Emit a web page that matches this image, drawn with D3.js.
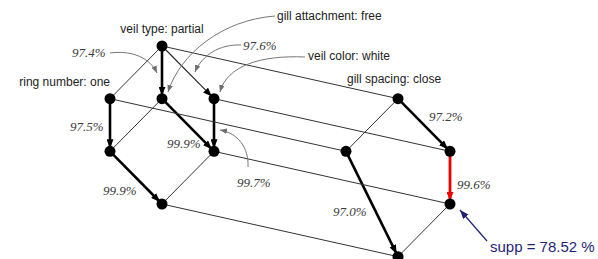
<!DOCTYPE html>
<html lang="en">
<head>
<meta charset="utf-8">
<title>Lattice of mushroom itemsets</title>
<script src="https://cdn.jsdelivr.net/npm/d3@7"></script>
<style>
  body { margin: 0; background: #fff; }
  .item { font-family: "Liberation Sans", Arial, sans-serif; font-size: 12px; fill: #222; }
  .conf { font-family: "Liberation Serif", "Times New Roman", serif; font-style: italic; font-size: 13px; fill: #3c3c3c; }
  .supp { font-family: "Liberation Sans", Arial, sans-serif; font-size: 15px; fill: #1f1f78; }
</style>
</head>
<body>
<script>
// lattice nodes: column (-1..1), level (0 = top), side (0 = left copy, 1 = shifted copy)
var nodeIds   = ["A", "B", "C", "D", "E", "F", "G", "A2", "B2", "D2", "F2", "G2"];
var nodeCol   = [0, -1, 0, 1, -1, 1, 0, 0, -1, 1, 1, 0];
var nodeLevel = [0, 1, 1, 1, 2, 2, 3, 0, 1, 1, 2, 3];
var nodeSide  = [0, 0, 0, 0, 0, 0, 0, 1, 1, 1, 1, 1];

// edges: source, target, kind
var edgeSrc  = ["A", "A", "A", "B", "C", "C", "D", "E", "F",
                "A2", "A2", "B2", "D2", "F2",
                "A", "B", "D", "F", "G"];
var edgeTgt  = ["B", "C", "D", "E", "E", "F", "F", "G", "G",
                "B2", "D2", "G2", "F2", "G2",
                "A2", "B2", "D2", "F2", "G2"];
var edgeKind = ["thin", "thick", "thinArrow", "thick", "thin", "thick", "thick", "thick", "thin",
                "thin", "thick", "thick", "red", "thin",
                "thin", "thin", "thin", "thin", "thin"];

// item labels and confidences
var itemLabels = ["veil type: partial", "gill attachment: free", "veil color: white",
                  "gill spacing: close", "ring number: one"];
var confLabels = ["97.4%", "97.6%", "97.5%", "99.9%", "99.9%", "99.7%", "97.0%", "97.2%", "99.6%"];
var suppLabel = "supp = 78.52 %";

// ---------- layout ----------
var W = 598, H = 259;
var sideDx = 236;
var r = 5.5;

var itemPos = [[162, 33, "middle"], [277, 20, "start"], [308, 60, "start"],
               [347, 83, "start"], [110, 86, "end"]];
var confPos = [[72, 57], [243, 50], [70, 131], [167, 148], [103, 195],
               [237, 187], [333, 216], [429, 121], [457, 189]];
var suppPos = [490, 252];

// grey annotation curves (text -> element)
var notes = [
  "M110,53 C132,50 150,58 157,73",
  "M275,16 C222,20 180,54 168,92",
  "M241,45 C220,44 202,55 195,72",
  "M305,57 C260,55 227,66 220,92",
  "M248,167 C249,148 238,133 220,130"
];

var x = d3.scaleLinear().domain([-1, 1]).range([110, 214]);
var y = d3.scaleLinear().domain([0, 3]).range([46, 204]);

var nodes = nodeIds.map(function(id, i) {
  return {
    id: id,
    x: x(nodeCol[i]) + nodeSide[i] * sideDx,
    y: y(nodeLevel[i] + nodeSide[i])
  };
});
var byId = {};
nodes.forEach(function(n) { byId[n.id] = n; });

var edges = edgeSrc.map(function(s, i) {
  return { s: byId[s], t: byId[edgeTgt[i]], kind: edgeKind[i] };
});

var svg = d3.select("body").append("svg")
  .attr("width", W)
  .attr("height", H);

var defs = svg.append("defs");
function marker(id, color, len, wid, back) {
  defs.append("marker")
    .attr("id", id)
    .attr("markerUnits", "userSpaceOnUse")
    .attr("viewBox", "0 " + (-wid) + " " + len + " " + (2 * wid))
    .attr("refX", len + back)
    .attr("refY", 0)
    .attr("markerWidth", len)
    .attr("markerHeight", 2 * wid)
    .attr("orient", "auto")
    .append("path")
    .attr("d", "M0," + (-wid) + "L" + len + ",0L0," + wid + "Z")
    .attr("fill", color);
}
marker("arBlack", "#000", 9, 3.5, 3);
marker("arRed", "#f00000", 9, 3.5, 3);
marker("arGrey", "#6e6e6e", 7, 2.8, 0);
marker("arNavy", "#1f1f78", 9, 3.5, 0);

var style = {
  thin:      { w: 1, c: "#333", m: null },
  thinArrow: { w: 1.1, c: "#222", m: "arBlack" },
  thick:     { w: 2.6, c: "#000", m: "arBlack" },
  red:       { w: 2.8, c: "#f00000", m: "arRed" }
};

// edges
svg.append("g").selectAll("line")
  .data(edges)
  .enter().append("line")
  .attr("x1", function(d) { return d.s.x; })
  .attr("y1", function(d) { return d.s.y; })
  .attr("x2", function(d) { return d.t.x; })
  .attr("y2", function(d) { return d.t.y; })
  .attr("stroke", function(d) { return style[d.kind].c; })
  .attr("stroke-width", function(d) { return style[d.kind].w; })
  .attr("marker-end", function(d) { return style[d.kind].m ? "url(#" + style[d.kind].m + ")" : null; });

// annotation curves
svg.append("g").selectAll("path")
  .data(notes)
  .enter().append("path")
  .attr("d", function(d) { return d; })
  .attr("fill", "none")
  .attr("stroke", "#777")
  .attr("stroke-width", 1)
  .attr("marker-end", "url(#arGrey)");

// support arrow
svg.append("line")
  .attr("x1", 487).attr("y1", 241)
  .attr("x2", byId.F2.x + 10).attr("y2", byId.F2.y + 6)
  .attr("stroke", "#1f1f78")
  .attr("stroke-width", 1.2)
  .attr("marker-end", "url(#arNavy)");

// nodes
svg.append("g").selectAll("circle")
  .data(nodes)
  .enter().append("circle")
  .attr("cx", function(d) { return d.x; })
  .attr("cy", function(d) { return d.y; })
  .attr("r", r)
  .attr("fill", "#000");

// texts
svg.append("g").selectAll("text")
  .data(itemLabels)
  .enter().append("text")
  .attr("class", "item")
  .attr("x", function(d, i) { return itemPos[i][0]; })
  .attr("y", function(d, i) { return itemPos[i][1]; })
  .attr("text-anchor", function(d, i) { return itemPos[i][2]; })
  .text(function(d) { return d; });

svg.append("g").selectAll("text")
  .data(confLabels)
  .enter().append("text")
  .attr("class", "conf")
  .attr("x", function(d, i) { return confPos[i][0]; })
  .attr("y", function(d, i) { return confPos[i][1]; })
  .text(function(d) { return d; });

svg.append("text")
  .attr("class", "supp")
  .attr("x", suppPos[0])
  .attr("y", suppPos[1])
  .text(suppLabel);
</script>
</body>
</html>
